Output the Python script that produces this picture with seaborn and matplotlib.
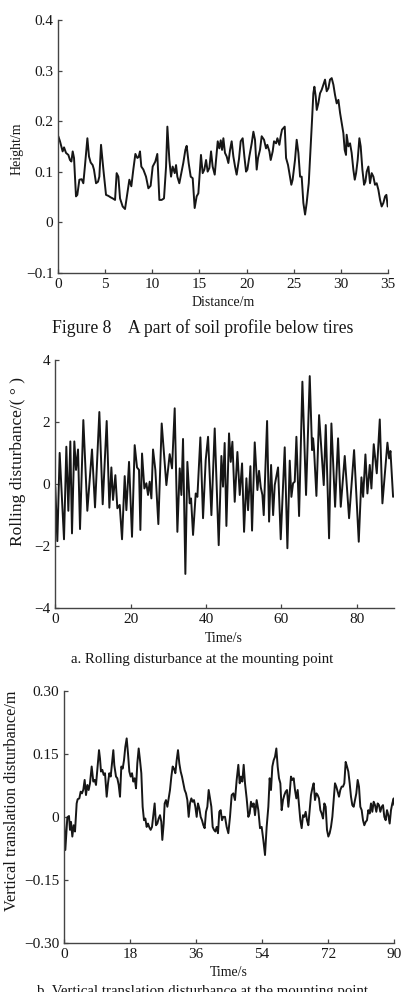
import matplotlib
matplotlib.use("Agg")
import matplotlib.pyplot as plt
import seaborn as sns

# Plain white style, serif text like the journal figure
sns.set_theme(style="ticks")
plt.rcParams["font.family"] = ["Liberation Serif", "DejaVu Serif"]
plt.rcParams["axes.unicode_minus"] = True

LINE = "#161616"
AXIS = "#444444"
TEXT = "#161616"

# Figure 8: soil profile height (m) against distance (m)
distance = [0.00, 0.18, 0.46, 0.61, 0.82, 1.07, 1.24, 1.39, 1.53, 1.67,
            1.88, 2.02, 2.24, 2.48, 2.66, 2.84, 3.09, 3.26, 3.44, 3.65,
            3.79, 4.01, 4.22, 4.36, 4.54, 4.79, 5.07, 5.32, 5.57, 5.78,
            6.03, 6.20, 6.38, 6.56, 6.84, 7.09, 7.34, 7.55, 7.76, 7.97,
            8.19, 8.40, 8.54, 8.68, 8.82, 9.04, 9.32, 9.57, 9.81, 10.03,
            10.31, 10.52, 10.74, 10.98, 11.23, 11.45, 11.59, 11.80, 11.98, 12.15,
            12.37, 12.51, 12.65, 12.86, 13.07, 13.28, 13.50, 13.64, 13.85, 14.07,
            14.28, 14.49, 14.70, 14.88, 15.06, 15.16, 15.34, 15.52, 15.70, 15.87,
            16.05, 16.23, 16.40, 16.62, 16.76, 16.94, 17.11, 17.26, 17.40, 17.54,
            17.71, 17.89, 18.07, 18.25, 18.42, 18.60, 18.78, 18.95, 19.20, 19.38,
            19.59, 19.77, 19.95, 20.09, 20.30, 20.55, 20.73, 20.90, 21.08, 21.22,
            21.43, 21.61, 21.86, 22.07, 22.21, 22.43, 22.57, 22.78, 22.92, 23.14,
            23.28, 23.49, 23.63, 23.77, 23.91, 24.06, 24.20, 24.41, 24.62, 24.76,
            24.90, 25.15, 25.33, 25.51, 25.69, 25.86, 26.04, 26.22, 26.39, 26.61,
            26.82, 26.96, 27.10, 27.21, 27.35, 27.46, 27.63, 27.81, 27.99, 28.17,
            28.34, 28.52, 28.70, 28.87, 29.05, 29.23, 29.40, 29.58, 29.76, 29.94,
            30.11, 30.29, 30.43, 30.57, 30.64, 30.82, 31.00, 31.17, 31.35, 31.50,
            31.64, 31.81, 31.99, 32.13, 32.31, 32.49, 32.63, 32.77, 32.95, 33.12,
            33.30, 33.48, 33.65, 33.83, 34.01, 34.19, 34.36, 34.54, 34.72, 34.86,
            35.00]
height = [0.170, 0.160, 0.140, 0.148, 0.137, 0.133, 0.123, 0.120, 0.140, 0.127,
          0.051, 0.054, 0.084, 0.085, 0.077, 0.113, 0.166, 0.130, 0.118, 0.113,
          0.104, 0.077, 0.080, 0.090, 0.153, 0.104, 0.054, 0.052, 0.049, 0.047,
          0.044, 0.097, 0.090, 0.047, 0.031, 0.026, 0.057, 0.084, 0.071, 0.104,
          0.135, 0.127, 0.129, 0.140, 0.110, 0.104, 0.090, 0.067, 0.072, 0.110,
          0.120, 0.135, 0.044, 0.044, 0.047, 0.110, 0.189, 0.123, 0.090, 0.110,
          0.097, 0.113, 0.090, 0.077, 0.097, 0.117, 0.143, 0.151, 0.117, 0.090,
          0.087, 0.028, 0.051, 0.057, 0.104, 0.133, 0.097, 0.104, 0.123, 0.100,
          0.107, 0.140, 0.110, 0.094, 0.123, 0.160, 0.146, 0.162, 0.143, 0.166,
          0.137, 0.130, 0.117, 0.143, 0.160, 0.130, 0.110, 0.094, 0.125, 0.160,
          0.166, 0.130, 0.100, 0.104, 0.130, 0.156, 0.179, 0.163, 0.104, 0.127,
          0.143, 0.170, 0.163, 0.146, 0.153, 0.140, 0.123, 0.140, 0.160, 0.156,
          0.166, 0.153, 0.170, 0.183, 0.186, 0.189, 0.127, 0.113, 0.090, 0.074,
          0.084, 0.123, 0.163, 0.137, 0.090, 0.090, 0.038, 0.015, 0.038, 0.077,
          0.150, 0.202, 0.255, 0.268, 0.249, 0.222, 0.235, 0.255, 0.262, 0.272,
          0.282, 0.259, 0.265, 0.282, 0.285, 0.272, 0.252, 0.235, 0.242, 0.216,
          0.196, 0.176, 0.143, 0.133, 0.173, 0.150, 0.156, 0.137, 0.104, 0.084,
          0.097, 0.123, 0.166, 0.150, 0.104, 0.074, 0.080, 0.100, 0.110, 0.077,
          0.097, 0.090, 0.074, 0.077, 0.064, 0.044, 0.031, 0.038, 0.051, 0.054,
          0.031]

# a. rolling disturbance (deg) against time (s)
time_roll = [0.00, 0.54, 1.16, 2.31, 2.93, 3.46, 3.99, 4.43, 5.05, 5.50,
             6.03, 6.56, 7.44, 8.50, 9.74, 10.54, 11.69, 12.58, 13.64, 14.35,
             14.88, 15.32, 15.94, 16.47, 17.09, 17.71, 18.42, 18.86, 19.57, 20.36,
             21.07, 21.69, 22.22, 22.58, 23.02, 23.64, 24.17, 24.61, 25.05, 25.50,
             25.94, 26.56, 27.35, 28.24, 29.48, 30.36, 30.98, 31.69, 32.40, 33.02,
             33.46, 33.90, 34.52, 35.05, 35.67, 36.03, 36.56, 37.27, 37.71, 38.50,
             39.21, 39.92, 40.54, 41.43, 42.31, 43.37, 44.08, 44.51, 44.95, 45.41,
             46.11, 46.56, 47.00, 47.62, 48.33, 48.95, 49.57, 50.10, 50.72, 51.16,
             51.78, 52.22, 52.93, 53.64, 54.08, 54.53, 54.97, 55.32, 56.21, 56.74,
             57.27, 57.81, 58.24, 59.12, 59.83, 60.89, 61.60, 62.22, 62.66, 63.11,
             63.55, 63.99, 64.70, 65.58, 66.55, 67.53, 68.15, 68.42, 68.68, 69.30,
             70.01, 71.25, 71.78, 72.66, 73.28, 74.26, 75.05, 75.76, 76.82, 77.97,
             79.30, 80.54, 81.25, 81.70, 82.31, 82.84, 83.46, 83.90, 84.52, 85.32,
             86.12, 86.82, 88.15, 88.60, 88.95, 89.65]
rolling = [-0.09, -1.85, 1.00, -1.79, 1.20, -0.87, 1.37, -1.60, 1.37, 0.45,
           1.11, -1.46, 2.06, -0.87, 1.11, -0.76, 2.32, -0.66, 2.03, -0.77,
           0.53, -0.52, 0.28, -0.79, -0.68, -1.79, 0.25, -0.85, 0.71, -1.71,
           1.25, 0.53, 0.45, -1.49, 0.98, -0.15, 0.02, -0.36, 0.07, -0.47,
           1.11, 0.44, -1.30, 1.95, -0.04, 0.96, 0.50, 2.44, -1.55, 0.50,
           -0.36, 1.45, -2.91, 0.71, -0.63, -0.47, -1.65, -0.31, -0.42, 1.50,
           -1.11, 0.77, 1.52, -1.01, 1.79, -1.98, 0.90, -0.09, 1.32, -1.36,
           1.63, 0.71, 1.36, -0.58, 1.03, -0.36, 0.66, -1.55, 0.18, -0.85,
           0.57, -1.51, 1.34, -0.20, 0.42, -0.11, -0.36, -1.01, 2.03, -1.22,
           0.61, -1.01, -0.04, 0.53, -1.79, 1.18, -2.08, 0.75, -0.42, 0.02,
           0.07, 1.52, -1.04, 3.30, -0.36, 3.48, 1.09, 1.47, 1.09, -0.39,
           2.22, -0.04, 1.90, -1.76, 1.95, -0.74, 1.47, -0.74, 0.90, -1.11,
           1.09, -1.87, 0.21, -0.42, 0.95, -0.31, 0.61, -0.15, 1.28, 0.34,
           2.08, -0.63, 1.33, 0.82, 1.06, -0.42]

# b. vertical translation disturbance (m) against time (s)
time_vert = [0.00, 0.36, 0.91, 1.36, 1.63, 1.91, 2.27, 2.63, 3.00, 3.45,
             3.72, 4.18, 4.54, 4.90, 5.27, 5.63, 5.99, 6.36, 6.72, 7.08,
             7.54, 7.99, 8.36, 8.72, 9.17, 9.54, 9.81, 10.08, 10.45, 10.81,
             11.17, 11.63, 11.99, 12.35, 12.72, 13.17, 13.44, 13.71, 14.17, 14.53,
             14.90, 15.26, 15.62, 15.99, 16.35, 16.71, 17.08, 17.44, 17.80, 18.17,
             18.53, 18.89, 19.26, 19.62, 19.98, 20.35, 20.71, 21.07, 21.43, 21.80,
             22.16, 22.52, 22.89, 23.25, 23.61, 23.98, 24.34, 24.70, 25.07, 25.43,
             25.79, 26.16, 26.52, 26.79, 27.16, 27.43, 27.79, 28.16, 28.52, 28.88,
             29.25, 29.61, 29.97, 30.34, 30.70, 31.06, 31.43, 31.79, 32.15, 32.52,
             32.88, 33.24, 33.61, 33.97, 34.33, 34.70, 35.06, 35.42, 35.79, 36.15,
             36.51, 36.88, 37.24, 37.60, 37.97, 38.33, 38.69, 39.06, 39.42, 39.78,
             40.15, 40.51, 40.87, 41.24, 41.60, 41.96, 42.32, 42.69, 43.05, 43.41,
             43.87, 44.32, 44.78, 45.23, 45.69, 46.14, 46.59, 47.05, 47.50, 47.87,
             48.23, 48.59, 48.96, 49.32, 49.77, 50.23, 50.59, 50.95, 51.32, 51.68,
             52.04, 52.50, 52.95, 53.41, 53.86, 54.31, 54.77, 55.22, 55.68, 56.04,
             56.40, 56.77, 57.13, 57.49, 57.86, 58.22, 58.58, 58.95, 59.31, 59.67,
             60.04, 60.40, 60.76, 61.13, 61.49, 61.85, 62.22, 62.58, 62.94, 63.31,
             63.67, 64.03, 64.40, 64.76, 65.12, 65.49, 65.85, 66.21, 66.58, 66.94,
             67.30, 67.67, 68.03, 68.39, 68.76, 69.12, 69.48, 69.85, 70.21, 70.57,
             70.94, 71.30, 71.66, 72.03, 72.39, 72.75, 73.12, 73.48, 73.84, 74.20,
             74.57, 74.93, 75.29, 75.66, 76.02, 76.38, 76.75, 77.11, 77.47, 77.84,
             78.20, 78.56, 78.93, 79.29, 79.65, 80.02, 80.38, 80.74, 81.11, 81.47,
             81.83, 82.20, 82.56, 82.92, 83.29, 83.65, 84.01, 84.38, 84.74, 85.10,
             85.47, 85.83, 86.19, 86.56, 86.92, 87.28, 87.65, 88.01, 88.37, 88.74,
             89.10, 89.46, 89.83, 90.00]
vertical = [-0.004, -0.079, -0.001, 0.002, -0.031, -0.012, -0.047, -0.020, -0.035, 0.032,
            0.042, 0.044, 0.060, 0.056, 0.065, 0.088, 0.052, 0.076, 0.064, 0.080,
            0.120, 0.084, 0.088, 0.076, 0.120, 0.159, 0.139, 0.108, 0.112, 0.100,
            0.104, 0.048, 0.080, 0.104, 0.096, 0.135, 0.159, 0.123, 0.096, 0.092,
            0.076, 0.048, 0.120, 0.115, 0.135, 0.167, 0.187, 0.151, 0.108, 0.096,
            0.104, 0.084, 0.092, 0.068, 0.128, 0.163, 0.135, 0.104, 0.024, -0.008,
            -0.004, -0.024, -0.016, -0.025, -0.031, -0.024, 0.004, 0.032, -0.020, -0.016,
            -0.004, 0.004, -0.012, -0.055, -0.016, 0.032, 0.040, 0.024, 0.044, 0.064,
            0.096, 0.120, 0.115, 0.104, 0.135, 0.159, 0.127, 0.108, 0.096, 0.080,
            0.064, 0.056, 0.040, 0.000, 0.032, 0.044, 0.036, 0.040, 0.024, 0.000,
            0.032, 0.020, 0.000, -0.008, -0.020, -0.027, 0.012, 0.024, 0.064, 0.044,
            0.024, -0.024, -0.031, -0.035, -0.024, -0.039, 0.012, 0.016, -0.008, 0.000,
            0.000, -0.024, -0.039, 0.000, 0.052, 0.056, 0.040, 0.088, 0.124, 0.080,
            0.096, 0.084, 0.124, 0.080, 0.044, 0.000, 0.008, 0.036, 0.024, 0.032,
            0.004, 0.040, 0.016, -0.027, -0.024, -0.055, -0.091, -0.024, 0.024, 0.092,
            0.064, 0.120, 0.135, 0.143, 0.163, 0.120, 0.092, 0.080, 0.016, 0.040,
            0.052, 0.060, 0.064, 0.024, 0.056, 0.096, 0.088, 0.092, 0.064, 0.044,
            0.064, 0.028, -0.008, -0.027, 0.004, 0.000, 0.012, -0.008, -0.020, 0.016,
            0.052, 0.068, 0.080, 0.040, 0.056, 0.052, 0.044, 0.016, 0.008, -0.004,
            0.032, 0.024, -0.031, -0.047, -0.039, -0.024, 0.000, 0.040, 0.080, 0.072,
            0.060, 0.048, 0.064, 0.072, 0.072, 0.080, 0.131, 0.120, 0.108, 0.080,
            0.048, 0.028, 0.024, 0.040, 0.056, 0.088, 0.072, 0.024, 0.016, -0.008,
            -0.020, -0.012, -0.008, 0.016, 0.008, 0.032, 0.012, 0.036, 0.028, 0.012,
            0.032, 0.028, 0.012, 0.024, 0.028, 0.000, -0.008, 0.016, 0.004, -0.016,
            0.016, 0.032, 0.044, 0.028]

# Tick values and labels
height_ticks = [-0.1, 0, 0.1, 0.2, 0.3, 0.4]
height_labels = ["\u22120.1", "0", "0.1", "0.2", "0.3", "0.4"]
distance_ticks = [0, 5, 10, 15, 20, 25, 30, 35]
roll_ticks = [-4, -2, 0, 2, 4]
roll_labels = ["\u22124", "\u22122", "0", "2", "4"]
roll_time_ticks = [0, 20, 40, 60, 80]
vert_ticks = [-0.30, -0.15, 0, 0.15, 0.30]
vert_labels = ["\u22120.30", "\u22120.15", "0", "0.15", "0.30"]
vert_time_ticks = [0, 18, 36, 54, 72, 90]

W, H = 401, 992
fig = plt.figure(figsize=(W / 100, H / 100), dpi=100)
fig.patch.set_facecolor("white")


def box(left, top, right, bottom):
    # pixel box -> figure fraction rect
    return [left / W, 1 - bottom / H, (right - left) / W, (bottom - top) / H]


def draw_panel(rect, x, y, xlim, xticks, ylim, yticks, ylabels):
    ax = fig.add_axes(rect)
    sns.lineplot(x=x, y=y, ax=ax, color=LINE, linewidth=1.4,
                 sort=False, estimator=None)
    ax.set_xlim(xlim)
    ax.set_ylim(ylim)
    ax.set_xticks(xticks)
    ax.set_yticks(yticks)
    ax.set_yticklabels(ylabels)
    ax.set_xlabel("")
    ax.set_ylabel("")
    sns.despine(ax=ax)
    for side in ["left", "bottom"]:
        ax.spines[side].set_color(AXIS)
        ax.spines[side].set_linewidth(1.0)
    ax.tick_params(direction="in", length=3, width=0.9, color=AXIS,
                   pad=3.5, labelsize=11, labelcolor=TEXT)
    ax.set_facecolor("white")
    return ax


def ftext(px, py, s, **kw):
    fig.text(px / W, 1 - py / H, s, color=TEXT, **kw)


# Figure 8
draw_panel(box(58.3, 20, 387.7, 272.7), distance, height, (0, 35),
           distance_ticks, (-0.1, 0.4), height_ticks, height_labels)
ftext(17, 149, "Height/m", rotation=90, ha="center", va="center", fontsize=10)
ftext(223, 303, "Distance/m", ha="center", va="center", fontsize=10)
ftext(203, 328, "Figure 8    A part of soil profile below tires",
      ha="center", va="center", fontsize=12.7)

# a. rolling
draw_panel(box(55.3, 360, 394.4, 607.7), time_roll, rolling, (0, 90),
           roll_time_ticks, (-4, 4), roll_ticks, roll_labels)
ftext(18, 461, "Rolling disturbance/( \u00b0 )", rotation=90,
      ha="center", va="center", fontsize=12.5)
ftext(224, 638, "Time/s", ha="center", va="center", fontsize=10)
ftext(202, 660, "a. Rolling disturbance at the mounting point",
      ha="center", va="center", fontsize=10.7)

# b. vertical translation
draw_panel(box(64, 691, 394.3, 942.7), time_vert, vertical, (0, 90),
           vert_time_ticks, (-0.30, 0.30), vert_ticks, vert_labels)
ftext(12, 801, "Vertical translation disturbance/m", rotation=90,
      ha="center", va="center", fontsize=11.7)
ftext(229, 972, "Time/s", ha="center", va="center", fontsize=10)
# caption sits at the bottom edge, cut off like in the source page
ftext(202, 985, "b. Vertical translation disturbance at the mounting point",
      ha="center", va="top", fontsize=10.7)

fig.savefig("out.png", dpi=100, facecolor="white")
